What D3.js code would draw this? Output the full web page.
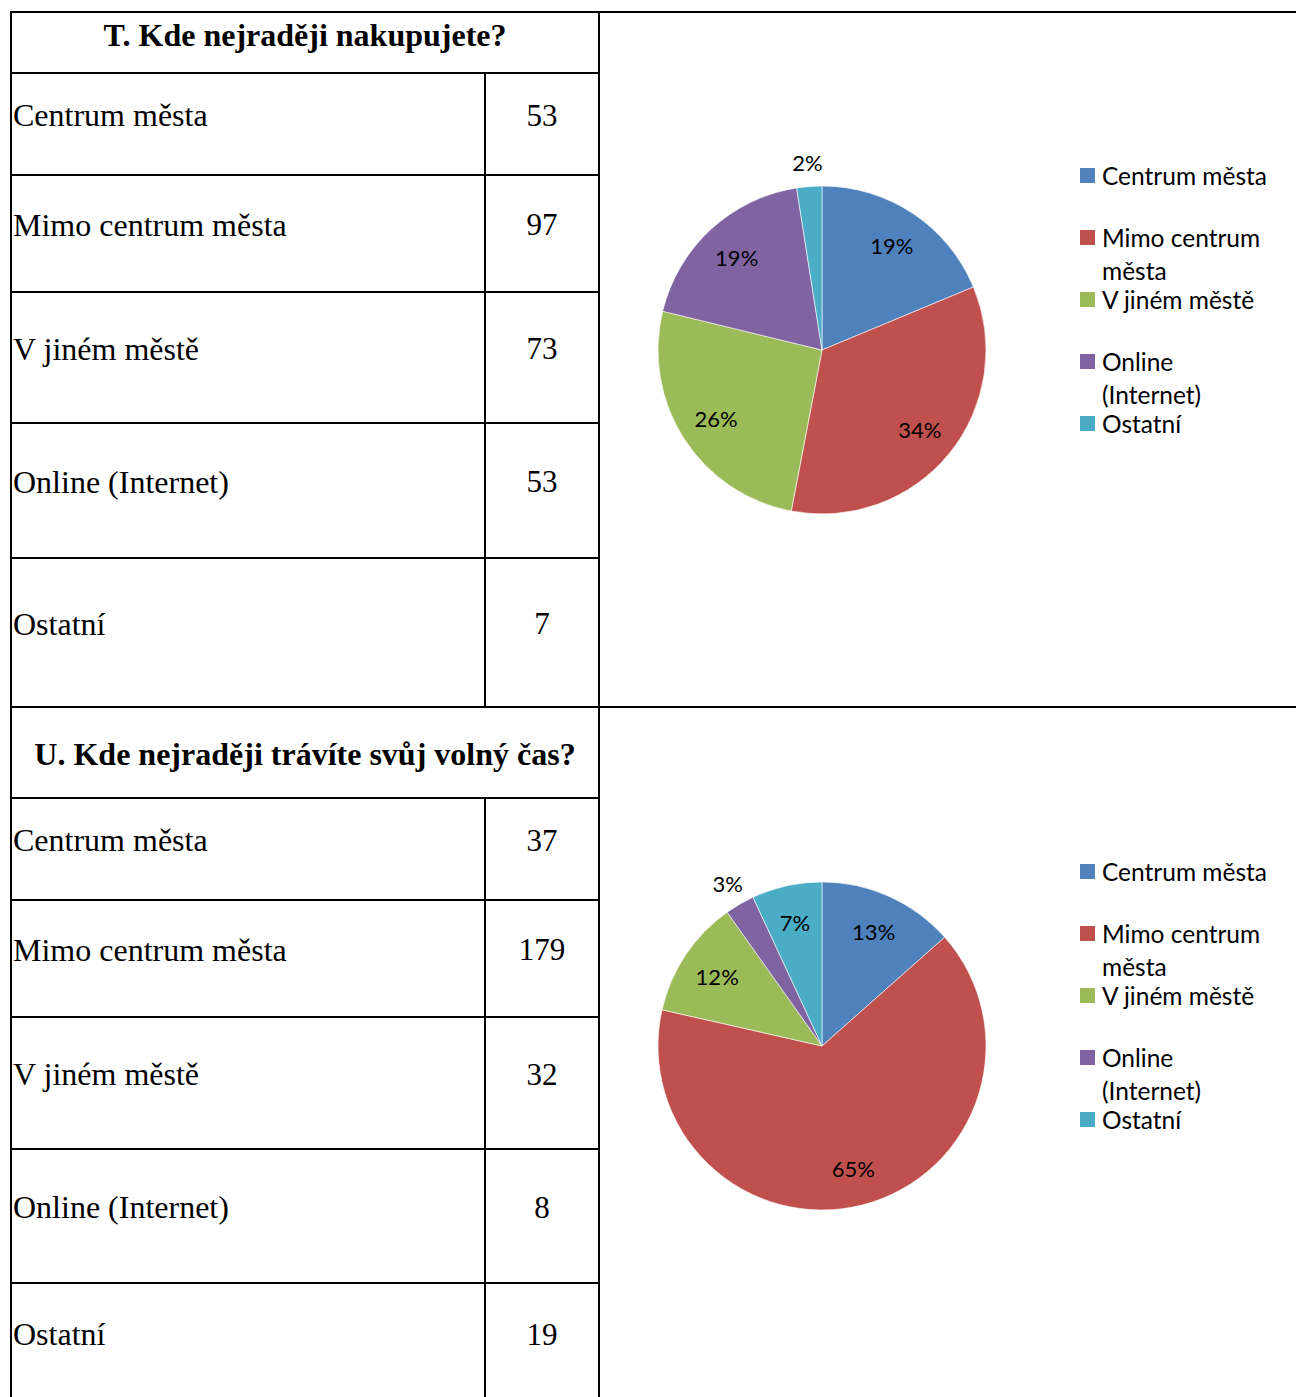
<!DOCTYPE html>
<html>
<head>
<meta charset="utf-8">
<script src="https://cdn.jsdelivr.net/npm/d3@7"></script>
<style>
  body { margin: 0; background: #fff; }
</style>
</head>
<body>
<div id="chart-area"></div>
<script>
// data
var categories = ["Centrum města", "Mimo centrum města", "V jiném městě", "Online (Internet)", "Ostatní"];
var shopValues = [53, 97, 73, 53, 7];
var leisureValues = [37, 179, 32, 8, 19];
var titles = ["T. Kde nejraději nakupujete?", "U. Kde nejraději trávíte svůj volný čas?"];
var colors = ["#4F81BD", "#C0504D", "#9BBB59", "#8064A2", "#4BACC6"];

var width = 1296, height = 1397;

var svg = d3.select("#chart-area")
    .append("svg")
        .attr("width", width)
        .attr("height", height);

// layout of the two blocks (table on the left, pie on the right)
var blocks = [
    { title: titles[0], values: shopValues, top: 12, rows: [73, 175, 292, 423, 558, 707], titleY: 35, cy: 350 },
    { title: titles[1], values: leisureValues, top: 707, rows: [798, 900, 1017, 1149, 1283, 1403], titleY: 754, cy: 1046 }
];

var xLeft = 11, xMid = 485, xRight = 599;
var cx = 822, radius = 164;
var serif = "'Liberation Serif', 'Times New Roman', serif";
var sans = "Lato, 'Open Sans', sans-serif";

var lines = svg.append("g")
    .attr("stroke", "#000")
    .attr("stroke-width", 2);

blocks.forEach(function(b) {
    var g = svg.append("g");

    // frame lines
    lines.append("line").attr("x1", xLeft - 1).attr("x2", width).attr("y1", b.top).attr("y2", b.top);
    lines.append("line").attr("x1", xLeft).attr("x2", xLeft).attr("y1", b.top).attr("y2", b.rows[5]);
    lines.append("line").attr("x1", xRight).attr("x2", xRight).attr("y1", b.top).attr("y2", b.rows[5]);
    lines.append("line").attr("x1", xMid).attr("x2", xMid).attr("y1", b.rows[0]).attr("y2", b.rows[5]);
    b.rows.slice(0, 5).forEach(function(y) {
        lines.append("line").attr("x1", xLeft).attr("x2", xRight).attr("y1", y).attr("y2", y);
    });

    g.append("text")
        .attr("x", (xLeft + xRight) / 2)
        .attr("y", b.titleY)
        .attr("text-anchor", "middle")
        .attr("dominant-baseline", "central")
        .style("font-family", serif)
        .style("font-weight", "bold")
        .style("font-size", "32px")
        .text(b.title);

    categories.forEach(function(c, i) {
        var yc = (b.rows[i] + b.rows[i + 1]) / 2 - 9;
        g.append("text")
            .attr("x", xLeft + 2)
            .attr("y", yc)
            .attr("dominant-baseline", "central")
            .style("font-family", serif)
            .style("font-size", "32px")
            .text(c);
        g.append("text")
            .attr("x", (xMid + xRight) / 2)
            .attr("y", yc)
            .attr("text-anchor", "middle")
            .attr("dominant-baseline", "central")
            .style("font-family", serif)
            .style("font-size", "31px")
            .text(b.values[i]);
    });

    // pie
    var total = d3.sum(b.values);
    var pie = d3.pie().sort(null)(b.values);
    var arc = d3.arc().innerRadius(0).outerRadius(radius);
    var inLabel = d3.arc().innerRadius(126).outerRadius(126);
    var outLabel = d3.arc().innerRadius(188).outerRadius(188);

    var pg = g.append("g").attr("transform", "translate(" + cx + ", " + b.cy + ")");
    pg.selectAll("path")
        .data(pie)
        .enter()
        .append("path")
            .attr("d", arc)
            .attr("fill", function(d, i) { return colors[i]; })
            .attr("stroke", "#fff")
            .attr("stroke-width", 0.6);

    pg.selectAll("text")
        .data(pie)
        .enter()
        .append("text")
            .attr("transform", function(d) {
                var small = d.value / total < 0.05;
                return "translate(" + (small ? outLabel : inLabel).centroid(d) + ")";
            })
            .attr("text-anchor", "middle")
            .attr("dominant-baseline", "central")
            .style("font-family", sans)
            .style("font-size", "22px")
            .text(function(d) { return Math.round(d.value / total * 100) + "%"; });

    // legend
    var lg = g.append("g").attr("transform", "translate(1080, " + (b.cy - 175) + ")");
    categories.forEach(function(c, i) {
        var item = lg.append("g").attr("transform", "translate(0, " + (i * 62) + ")");
        item.append("rect")
            .attr("x", 0).attr("y", -7)
            .attr("width", 15).attr("height", 15)
            .attr("fill", colors[i]);
        var t = item.append("text")
            .attr("x", 22)
            .attr("y", 0)
            .attr("dominant-baseline", "central")
            .style("font-family", sans)
            .style("font-size", "24.5px");
        // wrap long labels
        var words = c.split(" "), line = [];
        var tspan = t.append("tspan").attr("x", 22).attr("dy", 0);
        words.forEach(function(w) {
            line.push(w);
            tspan.text(line.join(" "));
            if (tspan.node().getComputedTextLength() > 176 && line.length > 1) {
                line.pop();
                tspan.text(line.join(" "));
                line = [w];
                tspan = t.append("tspan").attr("x", 22).attr("dy", 33).text(w);
            }
        });
    });
});
</script>
</body>
</html>
